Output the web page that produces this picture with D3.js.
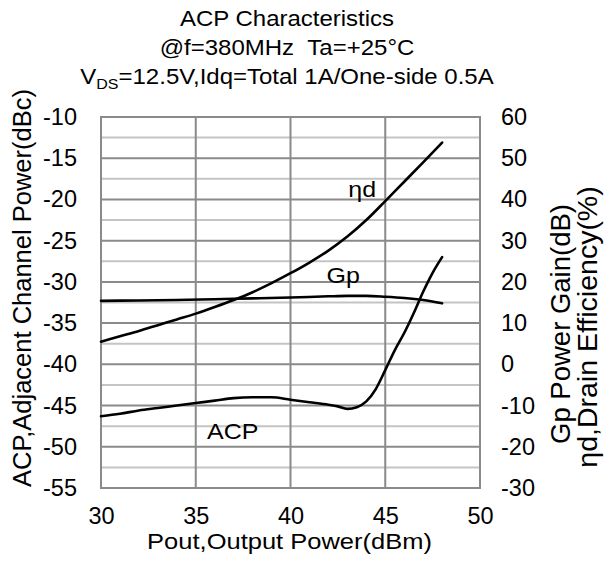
<!DOCTYPE html>
<html>
<head>
<meta charset="utf-8">
<script src="https://cdn.jsdelivr.net/npm/d3@7"></script>
<style>
  html, body { margin: 0; padding: 0; background: #fff; }
  svg text { font-family: "Liberation Sans", Arial, Helvetica, sans-serif; fill: #000; }
</style>
</head>
<body>
<svg id="chart" width="608" height="568"></svg>
<script>
// Output power sweep (dBm) and measured curves
const acpPout = [30, 31, 32, 33, 34, 35, 36, 37, 38, 39, 40, 41, 42, 42.5, 43, 43.5, 44, 44.5, 45, 45.5, 46, 46.5, 47, 47.5, 48];
const acpValues = [-46.3, -46.0, -45.6, -45.3, -45.0, -44.7, -44.4, -44.1, -44.0, -44.0, -44.3, -44.6, -44.9, -45.1, -45.4, -45.2, -44.5, -43.0, -40.7, -38.3, -36.2, -33.8, -31.2, -28.9, -27.0];

const effPout = [30, 31, 32, 33, 34, 35, 36, 37, 38, 39, 40, 41, 42, 43, 44, 45, 46, 47, 48];
const effValues = [5.5, 6.8, 8.1, 9.5, 10.9, 12.3, 13.9, 15.6, 17.5, 19.7, 22.1, 24.7, 27.6, 31.0, 35.0, 39.6, 44.3, 49.0, 53.8];

const gainPout = [30, 32, 34, 36, 38, 40, 42, 43, 44, 45, 46, 47, 48];
const gainValues = [15.4, 15.5, 15.6, 15.8, 16.0, 16.2, 16.5, 16.6, 16.6, 16.4, 16.1, 15.6, 14.8];

// Axis ticks
const xTicks = [30, 35, 40, 45, 50];
const leftTicks = [-10, -15, -20, -25, -30, -35, -40, -45, -50, -55];
const rightTicks = [60, 50, 40, 30, 20, 10, 0, -10, -20, -30];

const titleLines = ["ACP Characteristics", "@f=380MHz\u00a0\u00a0Ta=+25\u00b0C"];

const svg = d3.select("#chart");
const plot = { left: 101, top: 117, right: 480, bottom: 488 };

const x = d3.scaleLinear().domain([30, 50]).range([plot.left, plot.right]);
const yL = d3.scaleLinear().domain([-55, -10]).range([plot.bottom, plot.top]);
const yR = d3.scaleLinear().domain([-30, 60]).range([plot.bottom, plot.top]);

svg.append("rect").attr("width", 608).attr("height", 568).attr("fill", "#fff");

// Horizontal grid: light half-steps, darker full steps
const gridVals = d3.range(-55, -10 + 0.01, 2.5);
const grid = svg.append("g");
grid.selectAll("line.minor")
  .data(gridVals.filter(v => Math.abs(v % 5) > 0.1))
  .join("line")
  .attr("x1", plot.left).attr("x2", plot.right)
  .attr("y1", d => yL(d)).attr("y2", d => yL(d))
  .attr("stroke", "#c4c4c4").attr("stroke-width", 2);
grid.selectAll("line.major")
  .data(leftTicks)
  .join("line")
  .attr("x1", plot.left).attr("x2", plot.right)
  .attr("y1", d => yL(d)).attr("y2", d => yL(d))
  .attr("stroke", "#8a8a8a").attr("stroke-width", 2);
grid.selectAll("line.vert")
  .data(xTicks)
  .join("line")
  .attr("x1", d => x(d)).attr("x2", d => x(d))
  .attr("y1", plot.top).attr("y2", plot.bottom)
  .attr("stroke", "#8a8a8a").attr("stroke-width", 2);

svg.append("rect")
  .attr("x", plot.left).attr("y", plot.top)
  .attr("width", plot.right - plot.left).attr("height", plot.bottom - plot.top)
  .attr("fill", "none").attr("stroke", "#8a8a8a").attr("stroke-width", 2);

// Curves
const lineL = d3.line().x(d => x(d[0])).y(d => yL(d[1])).curve(d3.curveMonotoneX);
const lineR = d3.line().x(d => x(d[0])).y(d => yR(d[1])).curve(d3.curveMonotoneX);

const curves = svg.append("g").attr("fill", "none").attr("stroke", "#000")
  .attr("stroke-width", 2.6).attr("stroke-linejoin", "round").attr("stroke-linecap", "round");
curves.append("path").attr("d", lineR(d3.zip(gainPout, gainValues)));
curves.append("path").attr("d", lineR(d3.zip(effPout, effValues)));
curves.append("path").attr("d", lineL(d3.zip(acpPout, acpValues)));

// Axes (labels only), plain hyphen for negatives
const fmt = d => String(d);
const tickFont = "23.5px";
const axL = svg.append("g").attr("transform", `translate(${plot.left},0)`)
  .call(d3.axisLeft(yL).tickValues(leftTicks).tickFormat(fmt).tickSize(0).tickPadding(24));
const axR = svg.append("g").attr("transform", `translate(${plot.right},0)`)
  .call(d3.axisRight(yR).tickValues(rightTicks).tickFormat(fmt).tickSize(0).tickPadding(21));
const axB = svg.append("g").attr("transform", `translate(0,${plot.bottom})`)
  .call(d3.axisBottom(x).tickValues(xTicks).tickFormat(fmt).tickSize(0).tickPadding(19));
[axL, axR, axB].forEach(a => {
  a.select(".domain").remove();
  a.selectAll("text").attr("font-size", tickFont).attr("fill", "#000")
    .style("font-family", "'Liberation Sans', Arial, sans-serif");
  a.attr("font-size", null).attr("font-family", null);
});

// Curve labels
const labelFont = "25px";
function curveLabel(px, py, txt) {
  svg.append("g").attr("transform", `translate(${px},${py}) scale(1,0.9)`)
    .append("text").attr("font-size", labelFont).text(txt);
}
curveLabel(x(43.05), yR(40.6), "\u03b7d");
curveLabel(x(41.9), yR(19.7), "Gp");
curveLabel(x(35.6), yL(-49.06), "ACP");

// Titles
const cx = 287;
titleLines.forEach((t, i) => {
  const yy = [26, 55][i];
  svg.append("g").attr("transform", `translate(${cx},${yy}) scale(1,0.92)`)
    .append("text").attr("text-anchor", "middle").attr("font-size", "24px").text(t);
});
const vds = svg.append("g").attr("transform", `translate(${cx},84) scale(1,0.92)`)
  .append("text").attr("text-anchor", "middle").attr("font-size", "24px");
vds.append("tspan").text("V");
vds.append("tspan").attr("font-size", "16px").attr("dy", 5).text("DS");
vds.append("tspan").attr("dy", -5).text("=12.5V,Idq=Total 1A/One-side 0.5A");

// Axis titles
svg.append("g").attr("transform", `translate(${(plot.left + plot.right) / 2 - 1},549) scale(1,0.9)`)
  .append("text").attr("text-anchor", "middle").attr("font-size", "25.5px")
  .text("Pout,Output Power(dBm)");

svg.append("g").attr("transform", "translate(31,288) rotate(-90)")
  .append("text").attr("text-anchor", "middle").attr("font-size", "25.5px")
  .text("ACP,Adjacent Channel Power(dBc)");

svg.append("g").attr("transform", "translate(570,324) rotate(-90)")
  .append("text").attr("text-anchor", "middle").attr("font-size", "27.5px")
  .text("Gp Power Gain(dB)");
svg.append("g").attr("transform", "translate(597,327) rotate(-90)")
  .append("text").attr("text-anchor", "middle").attr("font-size", "28.5px")
  .text("\u03b7d,Drain Efficiency(%)");
</script>
</body>
</html>
